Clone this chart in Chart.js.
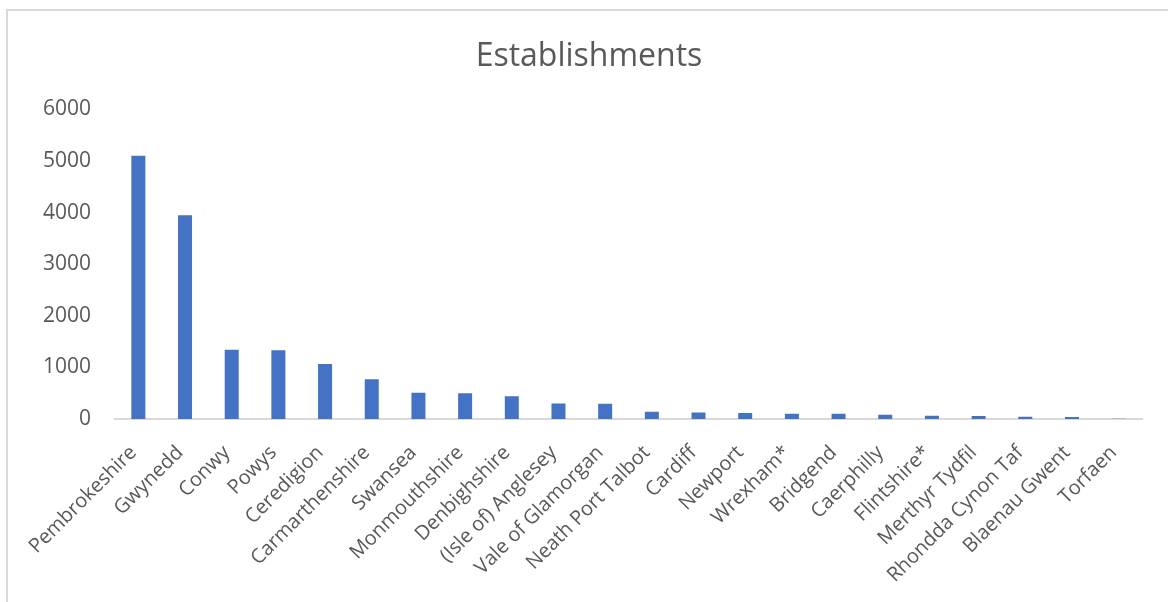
<!DOCTYPE html>
<html>
<head>
<meta charset="utf-8">
<script src="https://cdn.jsdelivr.net/npm/chart.js@4/dist/chart.umd.min.js"></script>
<style>
  body { margin: 0; background: #fff; }
  #wrap { position: relative; width: 1168px; height: 602px; }
  #frame { position: absolute; left: 6px; top: 9px; right: -10px; bottom: -10px; border-left: 2px solid #d9d9d9; border-top: 2px solid #d9d9d9; }
  canvas { position: absolute; left: 0; top: 0; }
</style>
</head>
<body>
<div id="wrap">
  <div id="frame"></div>
  <canvas id="barChart" width="1168" height="602"></canvas>
</div>
<script>
const areas = [
  "Pembrokeshire", "Gwynedd", "Conwy", "Powys", "Ceredigion", "Carmarthenshire",
  "Swansea", "Monmouthshire", "Denbighshire", "(Isle of) Anglesey", "Vale of Glamorgan",
  "Neath Port Talbot", "Cardiff", "Newport", "Wrexham*", "Bridgend", "Caerphilly",
  "Flintshire*", "Merthyr Tydfil", "Rhondda Cynon Taf", "Blaenau Gwent", "Torfaen"
];
const establishments = [
  5100, 3950, 1340, 1330, 1065, 770,
  510, 500, 440, 300, 295,
  140, 128, 115, 103, 100, 82,
  65, 58, 45, 40, 5
];
const yTicks = [0, 1000, 2000, 3000, 4000, 5000, 6000];

const textColor = "#595959";
const font = "'Open Sans', sans-serif";

const ctx = document.getElementById("barChart").getContext("2d");
const myChart = new Chart(ctx, {
  type: "bar",
  data: {
    labels: areas,
    datasets: [
      {
        label: "Establishments",
        data: establishments,
        backgroundColor: "#4472C4",
        borderWidth: 0,
        barPercentage: 0.3,
        categoryPercentage: 1,
      },
    ],
  },
  options: {
    responsive: false,
    animation: false,
    layout: { padding: { left: 36, right: 26, top: 0, bottom: 0 } },
    plugins: {
      legend: { display: false },
      tooltip: { enabled: false },
      title: {
        display: true,
        text: "Establishments",
        color: textColor,
        font: { family: font, size: 32, weight: "normal" },
        padding: { top: 38, bottom: 33 },
      },
    },
    scales: {
      y: {
        min: 0,
        max: 6000,
        afterBuildTicks: (axis) => {
          axis.ticks = yTicks.map((v) => ({ value: v }));
        },
        afterFit: (axis) => {
          axis.width = 79;
        },
        grid: { display: false },
        border: { display: false },
        ticks: {
          color: textColor,
          font: { family: font, size: 21 },
          padding: 16,
          callback: (v) => String(v),
        },
      },
      x: {
        afterFit: (axis) => {
          axis.height = 183;
        },
        grid: { display: false },
        border: { display: true, color: "#d9d9d9", width: 2 },
        ticks: {
          color: textColor,
          font: { family: font, size: 20 },
          minRotation: 45,
          maxRotation: 45,
          autoSkip: false,
          padding: 14,
          labelOffset: -5,
        },
      },
    },
  },
});
</script>
</body>
</html>
